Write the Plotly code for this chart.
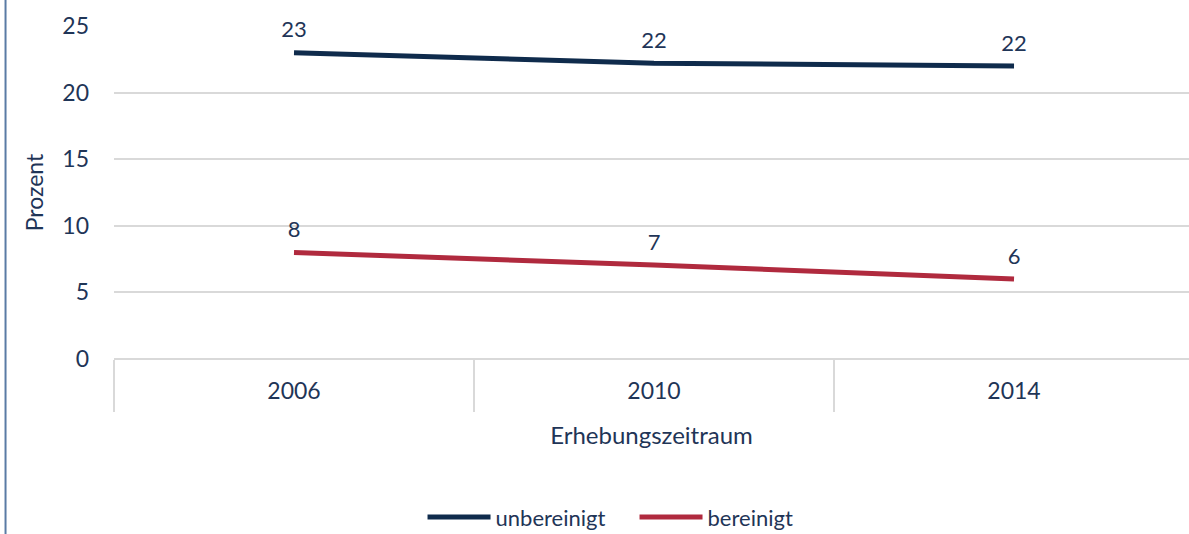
import plotly.graph_objects as go

years = ["2006", "2010", "2014"]
unbereinigt = [23, 22.2, 22]
bereinigt = [8, 7.05, 6]
y_ticks = [0, 5, 10, 15, 20, 25]

TXT = "#1f3557"
FONT = "Lato, Open Sans, sans-serif"
CLEAR = "rgba(0,0,0,0)"

fig = go.Figure()
fig.add_trace(go.Scatter(
    x=years, y=unbereinigt, name="unbereinigt", mode="lines+markers+text",
    line=dict(color="#0f2b4c", width=5),
    marker=dict(size=14, color=CLEAR, line=dict(width=0, color=CLEAR)),
    text=[f"{v:.0f}" for v in unbereinigt], textposition="top center",
    textfont=dict(size=22, color=TXT, family=FONT), cliponaxis=False,
))
fig.add_trace(go.Scatter(
    x=years, y=bereinigt, name="bereinigt", mode="lines+markers+text",
    line=dict(color="#b02a3e", width=5),
    marker=dict(size=14, color=CLEAR, line=dict(width=0, color=CLEAR)),
    text=[f"{v:.0f}" for v in bereinigt], textposition="top center",
    textfont=dict(size=22, color=TXT, family=FONT), cliponaxis=False,
))

fig.update_layout(
    width=1189, height=534,
    margin=dict(l=114, r=0, t=26, b=175, autoexpand=False),
    paper_bgcolor="white", plot_bgcolor="white",
    font=dict(family=FONT, color=TXT, size=23),
    showlegend=True,
    legend=dict(orientation="h", x=0.287, xanchor="left", y=-0.475, yanchor="middle",
                font=dict(size=22, color=TXT), itemwidth=63,
                entrywidth=134, entrywidthmode="pixels"),
    xaxis=dict(
        type="category", range=[-0.5, 2.486], automargin=False,
        showgrid=False, showline=False, zeroline=False,
        ticks="outside", tickson="boundaries", ticklen=52, tickwidth=2,
        tickcolor="#d9d9d9", ticklabelstandoff=16,
        tickfont=dict(size=23, color=TXT),
        title=dict(text="Erhebungszeitraum", font=dict(size=24, color=TXT), standoff=24),
    ),
    yaxis=dict(
        range=[0, 25], tickvals=y_ticks, showgrid=True, gridcolor="#d9d9d9", gridwidth=2,
        automargin=False,
        zeroline=True, zerolinecolor="#d9d9d9", zerolinewidth=2, showline=False,
        ticks="", ticklabelstandoff=24, tickfont=dict(size=23, color=TXT),
        title=dict(text="Prozent", font=dict(size=23, color=TXT), standoff=12),
    ),
    shapes=[dict(type="line", xref="paper", yref="paper", x0=-0.1009, x1=-0.1009,
                 y0=-0.53, y1=1.09, line=dict(color="#5a7ba5", width=2))],
)

fig.write_html("out.html", config={"displayModeBar": False},
               post_script="document.body.style.margin='0';")
